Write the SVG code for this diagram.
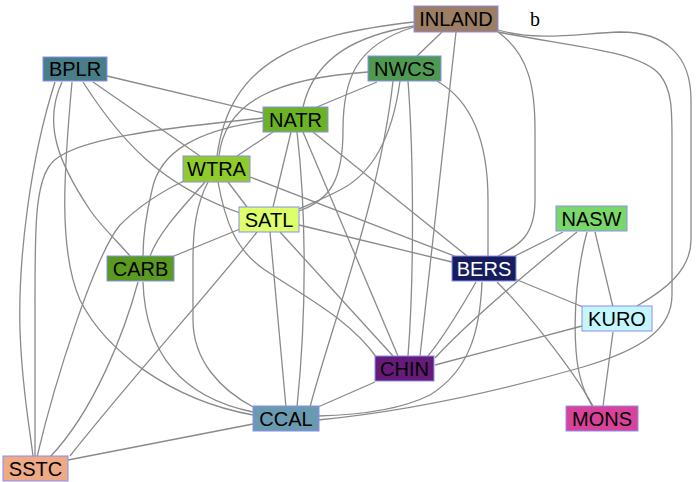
<svg xmlns="http://www.w3.org/2000/svg" width="698" height="482" viewBox="0 0 698 482">
<style>
.e{fill:none;stroke:#8a8a8a;stroke-width:1.3}
.n rect{stroke:#8a8ef0;stroke-width:1}
.n text{font-family:"Liberation Sans",Arial,sans-serif;font-size:20px;text-anchor:middle;fill:#000}
</style>
<rect width="698" height="482" fill="#fff"/>
<g id="edges">
<path class="e" d="M107,76 L263,113"/>
<path class="e" d="M93,82 L200,156"/>
<path class="e" d="M83,82 C120,140 160,185 240,213"/>
<path class="e" d="M72,82 C64,170 58,250 80,300 C105,350 170,400 253,415"/>
<path class="e" d="M62,82 C42,125 60,165 90,210 C100,225 118,242 130,256"/>
<path class="e" d="M55,82 C30,160 18,260 20,330 C22,390 30,430 33,456"/>
<path class="e" d="M263,118 C200,125 70,135 50,165 C35,185 35,230 35,300 L35,456"/>
<path class="e" d="M263,121 C200,130 160,150 152,190 C146,215 143,240 143,256"/>
<path class="e" d="M273,132 L237,156"/>
<path class="e" d="M291,132 L273,207"/>
<path class="e" d="M297,132 C305,200 308,300 297,407"/>
<path class="e" d="M303,132 L398,356"/>
<path class="e" d="M313,132 L467,256"/>
<path class="e" d="M414,26 C360,35 315,55 303,107"/>
<path class="e" d="M377,82 L317,107"/>
<path class="e" d="M414,22 C300,35 230,60 217,156"/>
<path class="e" d="M368,72 C280,78 225,100 219,156"/>
<path class="e" d="M442,32 L417,56"/>
<path class="e" d="M414,27 C355,45 343,80 343,130 C343,180 330,200 299,211"/>
<path class="e" d="M400,81 C392,140 370,175 340,190 C325,198 310,204 299,209"/>
<path class="e" d="M456,32 L420,356"/>
<path class="e" d="M498,32 C530,55 535,90 535,130 L535,200 C535,235 520,245 498,256"/>
<path class="e" d="M498,32 C560,45 640,50 660,75 C672,90 672,110 672,140 L672,295 C672,330 640,350 583,367 C520,385 420,410 318,420"/>
<path class="e" d="M498,30 C540,42 580,33 620,32 C665,32 691,55 691,100 L691,240 C691,270 665,290 637,306"/>
<path class="e" d="M393,81 C380,200 330,330 310,407"/>
<path class="e" d="M408,81 C414,160 414,280 408,356"/>
<path class="e" d="M437,81 C470,100 488,140 488,200 L488,256"/>
<path class="e" d="M228,182 L247,207"/>
<path class="e" d="M205,182 C185,205 160,230 150,256"/>
<path class="e" d="M186,180 C160,192 140,205 120,225 C95,255 55,380 37,457"/>
<path class="e" d="M208,182 C196,205 193,230 193,260 L193,320 C193,360 220,390 255,408"/>
<path class="e" d="M218,182 C225,220 235,250 265,270 C310,300 350,320 377,358"/>
<path class="e" d="M250,177 L457,257"/>
<path class="e" d="M240,229 L174,256"/>
<path class="e" d="M257,232 C220,280 130,380 70,456"/>
<path class="e" d="M270,232 L286,407"/>
<path class="e" d="M280,232 L393,356"/>
<path class="e" d="M299,225 L452,262"/>
<path class="e" d="M138,282 C125,330 95,410 50,457"/>
<path class="e" d="M143,282 C145,340 170,395 253,412"/>
<path class="e" d="M68,460 L253,424"/>
<path class="e" d="M318,407 L375,382"/>
<path class="e" d="M482,282 C480,330 470,370 430,395 C400,410 360,415 318,416"/>
<path class="e" d="M476,282 C460,310 445,335 428,356"/>
<path class="e" d="M513,257 L563,232"/>
<path class="e" d="M497,282 C525,310 570,365 593,406"/>
<path class="e" d="M515,279 L583,307"/>
<path class="e" d="M577,232 C530,270 470,320 435,358"/>
<path class="e" d="M587,232 C578,265 573,310 576,350 C578,380 586,395 592,406"/>
<path class="e" d="M595,232 L613,307"/>
<path class="e" d="M582,326 L435,365"/>
<path class="e" d="M613,332 L603,406"/>
</g>
<g id="BPLR" class="n"><rect x="43" y="57" width="64" height="24" fill="#487d8a"/><text x="75" y="76">BPLR</text></g>
<g id="INLAND" class="n"><rect x="414" y="6" width="84" height="26" fill="#9b7e63"/><text x="456" y="26">INLAND</text></g>
<g id="NWCS" class="n"><rect x="368" y="56" width="73" height="25" fill="#4f9a52"/><text x="404.5" y="75.5">NWCS</text></g>
<g id="NATR" class="n"><rect x="263" y="107" width="65" height="25" fill="#6bb325"/><text x="295.5" y="126.5">NATR</text></g>
<g id="WTRA" class="n"><rect x="183" y="156" width="67" height="26" fill="#8fcb2a"/><text x="216.5" y="176">WTRA</text></g>
<g id="SATL" class="n"><rect x="239" y="207" width="60" height="25" fill="#dcff6a"/><text x="269" y="226.5">SATL</text></g>
<g id="NASW" class="n"><rect x="556" y="206" width="71" height="25" fill="#7ad86a"/><text x="591.5" y="225.5">NASW</text></g>
<g id="CARB" class="n"><rect x="107" y="256" width="67" height="25" fill="#5a9a1e"/><text x="140.5" y="275.5">CARB</text></g>
<g id="BERS" class="n"><rect x="452" y="256" width="64" height="25" fill="#161d5e"/><text x="484" y="275.5" style="fill:#fff">BERS</text></g>
<g id="KURO" class="n"><rect x="582" y="306" width="70" height="25" fill="#c4f6ff"/><text x="617" y="325.5">KURO</text></g>
<g id="CHIN" class="n"><rect x="375" y="356" width="59" height="25" fill="#661a7a"/><text x="404.5" y="375.5">CHIN</text></g>
<g id="CCAL" class="n"><rect x="253" y="406" width="66" height="25" fill="#6a9ab0"/><text x="286" y="425.5">CCAL</text></g>
<g id="MONS" class="n"><rect x="566" y="406" width="72" height="25" fill="#d9429a"/><text x="602" y="425.5">MONS</text></g>
<g id="SSTC" class="n"><rect x="3" y="456" width="65" height="25" fill="#eea985"/><text x="35.5" y="475.5">SSTC</text></g>
<text x="530" y="26" font-family="'Liberation Serif',serif" font-size="20">b</text>
</svg>
